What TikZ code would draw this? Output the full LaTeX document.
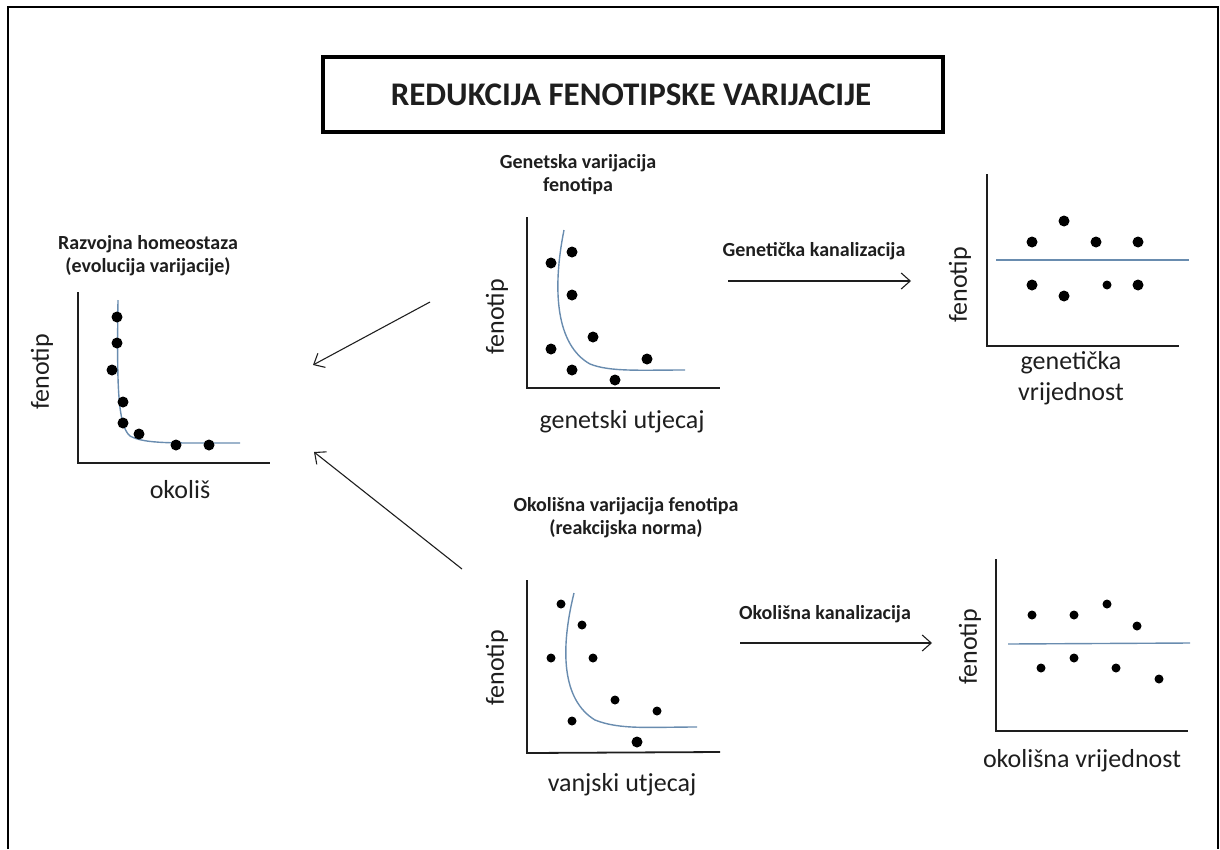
\documentclass[tikz,border=0pt]{standalone}
\usepackage{fontspec}
\setmainfont{Carlito}
\usetikzlibrary{arrows.meta}
\definecolor{ink}{RGB}{30,30,30}
\definecolor{curveblue}{RGB}{105,140,175}
\tikzset{
  axis/.style={draw=ink, line width=1.8pt},
  trend/.style={draw=curveblue, line width=1.4pt},
  dot/.style={circle, fill=black, inner sep=0pt, minimum size=11pt},
  sdot/.style={circle, fill=black, inner sep=0pt, minimum size=9pt},
  head/.style={font=\fontsize{20}{23}\selectfont\bfseries, text=ink, align=center, inner sep=0pt},
  axlab/.style={font=\fontsize{26}{31}\selectfont, text=ink, align=center, inner sep=0pt},
  conn/.style={draw=ink, line width=1.1pt, -{Straight Barb[length=9pt,width=16pt,line width=1.1pt]}},
}
\begin{document}
\begin{tikzpicture}[x=1pt,y=-1pt]
\useasboundingbox (0,0) rectangle (1220,849);
% outer frame (open at the bottom)
\draw[black, line width=2.6pt] (8,849) -- (8,7) -- (1218,7) -- (1218,849);
% title
\node[draw=black, line width=4pt, minimum width=620pt, minimum height=75pt, inner sep=0pt] (title) at (633,94.5) {};
\node[font=\fontsize{33}{38}\selectfont\bfseries, text=ink, inner sep=0pt] (titletext) at (631,95) {REDUKCIJA FENOTIPSKE VARIJACIJE};

% ---------- plot 1: Razvojna homeostaza ----------
\node[head] (h1) at (148,256) {Razvojna homeostaza\\(evolucija varijacije)};
\draw[axis] (78,292) -- (78,463) -- (270,463);
\node[axlab, rotate=90] (y1) at (42,372) {fenotip};
\node[axlab] (x1) at (180,490) {okoliš};
\draw[trend] (118,300) .. controls (117,380) and (117,425) .. (130,436) .. controls (145,444) and (170,443) .. (240,443);
\foreach \p in {(117,317),(117,343),(112,370),(123,402),(123,423),(139,434),(176,445),(209,445)}
  \node[dot] at \p {};

% ---------- plot 2: Genetska varijacija fenotipa ----------
\node[head] (h2) at (578,175) {Genetska varijacija\\fenotipa};
\draw[axis] (527,217) -- (527,388) -- (720,388);
\node[axlab, rotate=90] (y2) at (497,317) {fenotip};
\node[axlab] (x2) at (622,422) {genetski utjecaj};
\draw[trend] (564,230) .. controls (552,290) and (556,345) .. (590,364) .. controls (610,372) and (640,370) .. (685,370);
\foreach \p in {(551,263),(572,252),(572,295),(593,337),(551,349),(572,370),(615,380),(647,359)}
  \node[dot] at \p {};

% ---------- plot 3: genetic canalization ----------
\draw[axis] (987,174) -- (987,346) -- (1179,346);
\draw[trend] (996,260) -- (1189,260);
\node[axlab, rotate=90] (y3) at (960,285) {fenotip};
\node[axlab] (x3) at (1071,378) {genetička\\vrijednost};
\foreach \p in {(1032,242),(1064,221),(1096,242),(1138,242),(1032,285),(1064,296),(1138,285)}
  \node[dot] at \p {};
\node[sdot] at (1107,285) {};

% ---------- plot 4: Okolišna varijacija fenotipa ----------
\node[head] (h4) at (626,518) {Okolišna varijacija fenotipa\\(reakcijska norma)};
\draw[axis] (527,580) -- (527,753) -- (720,752);
\node[axlab, rotate=90] (y4) at (497,668) {fenotip};
\node[axlab] (x4) at (622,785) {vanjski utjecaj};
\draw[trend] (574,593) .. controls (560,650) and (562,700) .. (595,720) .. controls (620,730) and (650,727) .. (697,727);
\foreach \p in {(561,604),(582,625),(551,658),(593,658),(615,700),(657,711),(572,721)}
  \node[sdot] at \p {};
\node[dot] at (637,742) {};

% ---------- plot 5: environmental canalization ----------
\draw[axis] (996,559) -- (996,731) -- (1188,731);
\draw[trend] (1008,644) -- (1190,643);
\node[axlab, rotate=90] (y5) at (970,647) {fenotip};
\node[axlab] (x5) at (1082,761) {okolišna vrijednost};
\foreach \p in {(1032,615),(1074,615),(1107,604),(1137,626),(1041,668),(1074,658),(1116,668),(1159,679)}
  \node[sdot] at \p {};

% ---------- arrows ----------
\coordinate (g1) at (728,281);
\coordinate (g2) at (911,281);
\node[head] (lg) at (814,251) {Genetička kanalizacija};
\draw[conn] (g1) -- (g2);

\coordinate (o1) at (740,643);
\coordinate (o2) at (932,643);
\node[head] (lo) at (825,614) {Okolišna kanalizacija};
\draw[conn] (o1) -- (o2);

\coordinate (a1) at (430,302);
\coordinate (a2) at (313,365);
\draw[conn] (a1) -- (a2);
\coordinate (b1) at (462,569);
\coordinate (b2) at (314,452);
\draw[conn] (b1) -- (b2);
\end{tikzpicture}
\end{document}
